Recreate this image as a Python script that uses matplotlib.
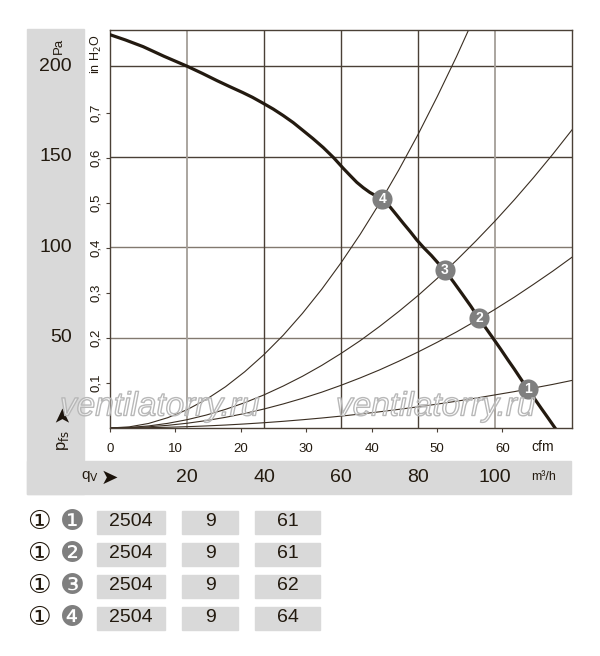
import matplotlib
matplotlib.use('Agg')
import matplotlib.pyplot as plt
from matplotlib.patches import Rectangle
import matplotlib.patheffects as pe
import matplotlib.transforms as mtrans

plt.rcParams['font.family'] = ['Liberation Sans', 'DejaVu Sans']

# ---------------- data ----------------
fan_q = [0, 4, 8.6, 14, 20, 24, 27.8, 31, 34.5, 37, 39.7, 42.4, 45, 47.6, 50.1, 52.7,
         55.4, 58.0, 60.6, 62.4, 64.1, 65.8, 67.5, 69.1, 70.7, 72.7, 74.5, 76.2, 78.0,
         79.7, 81.6, 83.5, 85.2, 86.9, 89.2, 91.5, 93.7, 95.8, 97.7, 99.5, 101.5, 103.4,
         105.0, 106.5, 108.5, 110.3, 112, 113.8, 115.6]
fan_p = [217.4, 214.5, 210.8, 205.5, 200, 196, 192, 188.8, 185.4, 182.8, 179.6, 176.3,
         172.7, 168.8, 164.5, 160.0, 155.0, 149.6, 143.5, 139.5, 135.8, 132.8, 130.2,
         128.3, 126.4, 122.3, 117.6, 113.1, 108.5, 103.9, 99.4, 95.3, 91.2, 87.3, 80.8,
         74.0, 67.4, 60.6, 55.0, 49.6, 43.5, 37.5, 32.6, 27.8, 21.5, 16.1, 10.9, 5.5, 0]

sys1_q = [0, 5, 10, 15, 20, 25, 30, 35, 40, 45, 50, 55, 60, 65, 70, 75, 80, 85, 90, 95, 100, 105, 110, 115, 120]
sys1_p = [0, 0.05, 0.18, 0.41, 0.73, 1.14, 1.64, 2.24, 2.92, 3.7, 4.57, 5.52, 6.57, 7.72,
          8.95, 10.3, 11.7, 13.2, 14.8, 16.5, 18.3, 20.1, 22.1, 24.1, 26.3]
sys2_q = [0, 5, 10, 15, 20, 25, 30, 35, 40, 45, 50, 55, 60, 65, 70, 75, 80, 85, 90, 95, 100, 105, 110, 115, 120]
sys2_p = [0, 0.16, 0.66, 1.48, 2.62, 4.1, 5.9, 8.03, 10.5, 13.3, 16.4, 19.8, 23.6, 27.7,
          32.1, 36.9, 42.0, 47.4, 53.1, 59.2, 65.6, 72.3, 79.4, 86.7, 94.4]
sys3_q = [0, 5, 10, 15, 20, 25, 30, 35, 40, 45, 50, 55, 60, 65, 70, 75, 80, 85, 90, 95, 100, 105, 110, 115, 120]
sys3_p = [0, 0.29, 1.14, 2.57, 4.58, 7.15, 10.3, 14.0, 18.3, 23.2, 28.6, 34.6, 41.2, 48.3,
          56.1, 64.4, 73.2, 82.7, 92.7, 103.3, 114.4, 126.1, 138.4, 151.3, 164.8]
sys4_q = [0, 5, 10, 15, 20, 25, 30, 35, 40, 45, 50, 55, 60, 65, 70, 75, 80, 85, 90, 95]
sys4_p = [0, 0.63, 2.5, 5.7, 10.1, 15.8, 22.8, 31.1, 40.6, 51.3, 63.4, 76.7, 91.3, 107.1,
          124.2, 142.6, 162.2, 183.2, 205.3, 228.8]

op_labels = ['1', '2', '3', '4']
op_q = [108.5, 95.8, 86.9, 70.7]
op_p = [21.5, 60.6, 87.3, 126.7]

pa_ticks = [50, 100, 150, 200]
m3h_ticks = [20, 40, 60, 80, 100]
cfm_ticks = [0, 10, 20, 30, 40, 50, 60]
inh2o_ticks = [0.1, 0.2, 0.3, 0.4, 0.5, 0.6, 0.7]
inh2o_labels = ['0,1', '0,2', '0,3', '0,4', '0,5', '0,6', '0,7']

row_marks = ['\u2776', '\u2777', '\u2778', '\u2779']
col_speed = ['2504', '2504', '2504', '2504']
col_b = ['9', '9', '9', '9']
col_c = ['61', '61', '62', '64']

CFM_TO_M3H = 1.699
PA_PER_INH2O = 249.09

# ---------------- figure ----------------
W, H = 600, 656
fig = plt.figure(figsize=(6, 6.56), dpi=100)
fig.patch.set_facecolor('white')

def fx(x):
    return x / W

def fy(y):
    return 1 - y / H

TXT = '#231a0f'
BAND = '#d9d9d9'
DARK = '#4a4036'

# gray bands
fig.patches.append(Rectangle((fx(27), fy(494)), (84 - 27) / W, (494 - 29) / H,
                             transform=fig.transFigure, color=BAND, zorder=-2))
fig.patches.append(Rectangle((fx(27), fy(494)), (571 - 27) / W, (494 - 461) / H,
                             transform=fig.transFigure, color=BAND, zorder=-2))

ax = fig.add_axes([fx(110), fy(428), (572 - 110) / W, (428 - 30) / H])
ax.set_xlim(0, 120)
ax.set_ylim(0, 220)
ax.set_facecolor('none')
for s in ax.spines.values():
    s.set_color(DARK)
    s.set_linewidth(1.0)

# grid
for v in pa_ticks:
    ax.axhline(v, color=('#82796f' if v in (50, 100) else DARK), lw=1.0, zorder=1)
for v in m3h_ticks:
    ax.axvline(v, color=('#a49e97' if v in (20, 100) else DARK),
               lw=(1.3 if v in (20, 100) else 1.0), zorder=1)

# curves
for q, p in [(sys1_q, sys1_p), (sys2_q, sys2_p), (sys3_q, sys3_p), (sys4_q, sys4_p)]:
    ax.plot(q, p, color='#3a2e22', lw=0.8, zorder=2)
ax.plot(fan_q, fan_p, color='#231a10', lw=2.3, zorder=3, solid_joinstyle='round')

ax.plot(op_q, op_p, 'o', ms=14.5, color='#7f7f7f', mec='none', zorder=5)
for lab, q, p in zip(op_labels, op_q, op_p):
    ax.text(q, p, lab, color='white', fontsize=10, fontweight='bold',
            ha='center', va='center', zorder=6)

# ticks: cfm on x, inH2O on y
ax.set_xticks([c * CFM_TO_M3H for c in cfm_ticks], labels=[str(c) for c in cfm_ticks])
ax.set_yticks([v * PA_PER_INH2O for v in inh2o_ticks], labels=inh2o_labels)
ax.tick_params(axis='x', direction='out', length=3, width=0.8, pad=8,
               labelsize=9.5, colors=DARK, labelcolor=TXT)
ax.tick_params(axis='y', direction='out', length=3, width=0.8, pad=3,
               labelsize=9.5, colors=DARK, labelcolor=TXT)
for lab in ax.get_yticklabels():
    lab.set_rotation(90)
    lab.set_va('center')

# Pa labels in the left band
tr_pa = mtrans.blended_transform_factory(fig.transFigure, ax.transData)
for v in pa_ticks:
    fig.text(fx(72), v, str(v), transform=tr_pa, ha='right', va='center',
             fontsize=14, color=TXT)
fig.text(fx(59), fy(46), 'Pa', rotation=90, ha='center', va='center', fontsize=9.5, color=TXT)
fig.text(fx(96), fy(54), r'in H$_2$O', rotation=90, ha='center', va='center',
         fontsize=9, color=TXT)

# m3/h labels in the bottom band
tr_m3 = mtrans.blended_transform_factory(ax.transData, fig.transFigure)
for v in m3h_ticks:
    fig.text(v, fy(477), str(v), transform=tr_m3, ha='center', va='center',
             fontsize=14, color=TXT)
fig.text(fx(544), fy(477), 'm³/h', ha='center', va='center', fontsize=9, color=TXT)
fig.text(fx(543), fy(447), 'cfm', ha='center', va='center', fontsize=10, color=TXT)

# axis symbols
fig.text(fx(90), fy(477), r'q$_{\rm V}$', ha='center', va='center', fontsize=11, color=TXT)
fig.text(fx(109), fy(478), '\u27a4', ha='center', va='center', fontsize=15, color='#1a120a',
         family=['DejaVu Sans'])
fig.text(fx(63), fy(440), r'p$_{\rm fs}$', rotation=90, ha='center', va='center',
         fontsize=12, color=TXT)
fig.text(fx(62), fy(413), '\u27a4', rotation=90, ha='center', va='center', fontsize=15,
         color='#1a120a', family=['DejaVu Sans'])

# watermark
for cx in (160, 436):
    fig.text(fx(cx), fy(407), 'ventilatorry.ru', ha='center', va='center', fontsize=24,
             style='italic', color=(1, 1, 1, 0.35),
             path_effects=[pe.Stroke(linewidth=1.0, foreground='#b8b8b8')], zorder=10)

# table
row_y = [522, 554, 586, 618]
boxes = [(97, 165), (182, 238), (255, 320)]
for i, y in enumerate(row_y):
    fig.text(fx(39), fy(y), '\u2460', ha='center', va='center', fontsize=19, color=TXT,
             family=['DejaVu Sans', 'Noto Sans CJK JP'])
    fig.text(fx(72), fy(y), row_marks[i], ha='center', va='center', fontsize=20,
             color='#7f7f7f', family=['DejaVu Sans', 'Noto Sans CJK JP'])
    for (x0, x1), val in zip(boxes, (col_speed[i], col_b[i], col_c[i])):
        fig.patches.append(Rectangle((fx(x0), fy(y + 11.5)), (x1 - x0) / W, 23 / H,
                                     transform=fig.transFigure, color=BAND, zorder=-1))
        fig.text(fx((x0 + x1) / 2), fy(y), val, ha='center', va='center',
                 fontsize=14, color=TXT)

fig.savefig('out.png', dpi=100)
